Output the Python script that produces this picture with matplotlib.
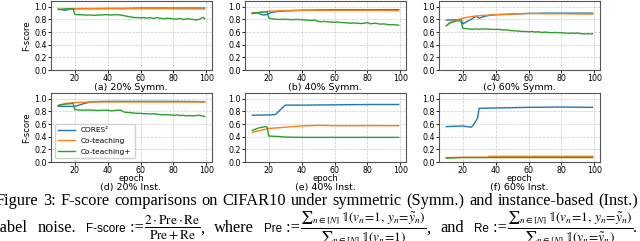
import matplotlib
matplotlib.use('Agg')
import matplotlib.pyplot as plt

# epochs used for the noisy Co-teaching+ curves (a-d)
green_ep = [10, 12, 14, 16, 18, 19] + list(range(20, 99, 2)) + [99]

# (a) 20% Symm.
a_cores_ep = [10, 12, 14, 16, 18, 20, 25, 30, 40, 50, 60, 70, 80, 90, 99]
a_cores = [0.96, 0.955, 0.945, 0.955, 0.965, 0.97, 0.972, 0.972, 0.975, 0.975, 0.98, 0.98, 0.98, 0.98, 0.98]
a_cot_ep = [10, 15, 20, 30, 50, 70, 99]
a_cot = [0.96, 0.965, 0.97, 0.97, 0.97, 0.97, 0.965]
a_cotp = [0.96, 0.96, 0.965, 0.97, 0.97, 0.975,
          0.88, 0.875, 0.875, 0.87, 0.87, 0.87, 0.865, 0.87, 0.87, 0.875,
          0.875, 0.87, 0.875, 0.875, 0.87, 0.86, 0.85, 0.84, 0.83, 0.83,
          0.825, 0.83, 0.82, 0.83, 0.815, 0.83, 0.82, 0.81, 0.82, 0.815,
          0.81, 0.805, 0.815, 0.80, 0.81, 0.805, 0.80, 0.79, 0.805, 0.835, 0.81]

# (b) 40% Symm.
b_cores_ep = [10, 12, 14, 16, 17, 19, 20, 22, 25, 30, 40, 50, 60, 70, 80, 99]
b_cores = [0.90, 0.91, 0.895, 0.875, 0.87, 0.88, 0.895, 0.91, 0.925, 0.935, 0.945, 0.95, 0.955, 0.955, 0.955, 0.955]
b_cot_ep = [10, 13, 16, 20, 25, 30, 40, 60, 80, 99]
b_cot = [0.89, 0.905, 0.915, 0.93, 0.935, 0.94, 0.945, 0.945, 0.945, 0.94]
b_cotp = [0.90, 0.905, 0.91, 0.915, 0.92, 0.925,
          0.82, 0.81, 0.805, 0.80, 0.80, 0.805, 0.80, 0.795, 0.80, 0.80,
          0.795, 0.79, 0.79, 0.785, 0.79, 0.77, 0.765, 0.77, 0.76, 0.76,
          0.755, 0.76, 0.75, 0.75, 0.745, 0.74, 0.745, 0.74, 0.735, 0.74,
          0.75, 0.73, 0.74, 0.735, 0.725, 0.73, 0.72, 0.715, 0.72, 0.71, 0.71]

# (c) 60% Symm.
c_cores_ep = [10, 15, 19, 20, 22, 25, 28, 29, 30, 32, 35, 40, 50, 60, 70, 80, 99]
c_cores = [0.79, 0.795, 0.80, 0.73, 0.76, 0.80, 0.85, 0.84, 0.82, 0.84, 0.86, 0.875, 0.885, 0.895, 0.90, 0.90, 0.90]
c_cot_ep = [10, 12, 15, 20, 25, 30, 40, 50, 60, 70, 80, 99]
c_cot = [0.70, 0.75, 0.78, 0.82, 0.845, 0.86, 0.875, 0.885, 0.895, 0.89, 0.89, 0.885]
c_cotp = [0.70, 0.74, 0.76, 0.775, 0.78, 0.77,
          0.66, 0.655, 0.65, 0.645, 0.65, 0.645, 0.65, 0.65, 0.645, 0.645,
          0.64, 0.645, 0.635, 0.635, 0.63, 0.62, 0.62, 0.615, 0.61, 0.61,
          0.605, 0.61, 0.60, 0.605, 0.595, 0.60, 0.595, 0.59, 0.595, 0.59,
          0.59, 0.585, 0.58, 0.585, 0.58, 0.585, 0.575, 0.57, 0.575, 0.57, 0.575]

# (d) 20% Inst.
d_cores_ep = [10, 14, 20, 25, 30, 40, 60, 80, 99]
d_cores = [0.88, 0.88, 0.88, 0.92, 0.955, 0.96, 0.96, 0.96, 0.955]
d_cot_ep = [10, 15, 20, 25, 30, 50, 80, 99]
d_cot = [0.90, 0.93, 0.94, 0.945, 0.95, 0.95, 0.95, 0.95]
d_cotp = [0.89, 0.905, 0.915, 0.92, 0.925, 0.93,
          0.83, 0.825, 0.82, 0.82, 0.825, 0.82, 0.82, 0.815, 0.82, 0.82,
          0.82, 0.81, 0.815, 0.82, 0.82, 0.79, 0.785, 0.78, 0.775, 0.77,
          0.77, 0.765, 0.765, 0.76, 0.765, 0.755, 0.75, 0.745, 0.75, 0.745,
          0.74, 0.745, 0.735, 0.74, 0.73, 0.735, 0.73, 0.735, 0.74, 0.725, 0.72]

# (e) 40% Inst.
e_cores_ep = [10, 20, 24, 30, 40, 60, 80, 99]
e_cores = [0.74, 0.745, 0.75, 0.90, 0.90, 0.905, 0.91, 0.91]
e_cot_ep = [10, 15, 20, 30, 40, 50, 60, 80, 99]
e_cot = [0.47, 0.50, 0.53, 0.55, 0.57, 0.58, 0.575, 0.575, 0.575]
e_cotp_ep = [10, 12, 14, 16, 18, 19, 20, 25, 30, 40, 60, 80, 99]
e_cotp = [0.50, 0.52, 0.54, 0.55, 0.56, 0.555, 0.41, 0.405, 0.395, 0.39, 0.39, 0.39, 0.39]

# (f) 60% Inst.
f_cores_ep = [10, 15, 20, 25, 26, 28, 29, 30, 40, 50, 60, 80, 99]
f_cores = [0.56, 0.565, 0.57, 0.55, 0.57, 0.65, 0.70, 0.85, 0.855, 0.86, 0.865, 0.87, 0.865]
f_cot_ep = [10, 20, 35, 36, 60, 99]
f_cot = [0.07, 0.075, 0.075, 0.09, 0.09, 0.09]
f_cotp_ep = [10, 15, 20, 40, 60, 99]
f_cotp = [0.06, 0.065, 0.07, 0.07, 0.07, 0.07]

titles = ['(a) 20% Symm.', '(b) 40% Symm.', '(c) 60% Symm.',
          '(d) 20% Inst.', '(e) 40% Inst.', '(f) 60% Inst.']
labels = ['CORES²', 'Co-teaching', 'Co-teaching+']

panels = [
    (a_cores_ep, a_cores, a_cot_ep, a_cot, green_ep, a_cotp),
    (b_cores_ep, b_cores, b_cot_ep, b_cot, green_ep, b_cotp),
    (c_cores_ep, c_cores, c_cot_ep, c_cot, green_ep, c_cotp),
    (d_cores_ep, d_cores, d_cot_ep, d_cot, green_ep, d_cotp),
    (e_cores_ep, e_cores, e_cot_ep, e_cot, e_cotp_ep, e_cotp),
    (f_cores_ep, f_cores, f_cot_ep, f_cot, f_cotp_ep, f_cotp),
]

W, H = 640, 241
plt.rcParams['mathtext.fontset'] = 'stix'
fig = plt.figure(figsize=(6.4, 2.41), dpi=100)

lefts = [51, 245, 439]
bottoms = [70, 162]   # pixel y of the axes bottom, from the top
ax_w, ax_h = 161, 69.5

for i, (ce, cy, oe, oy, ge, gy) in enumerate(panels):
    row, col = divmod(i, 3)
    ax = fig.add_axes([lefts[col] / W, (H - bottoms[row]) / H, ax_w / W, ax_h / H])
    ax.plot(ce, cy, color='tab:blue', lw=1.0, label=labels[0])
    ax.plot(oe, oy, color='tab:orange', lw=1.0, label=labels[1])
    ax.plot(ge, gy, color='tab:green', lw=1.0, label=labels[2])
    ax.set_ylim(0, 1.1)
    ax.set_yticks([0.0, 0.2, 0.4, 0.6, 0.8, 1.0])
    ax.set_xticks([20, 40, 60, 80, 100])
    ax.tick_params(labelsize=5.7, length=2, pad=1.0, width=0.6)
    ax.grid(True, linestyle='--', color='#cccccc', lw=0.5)
    for sp in ax.spines.values():
        sp.set_linewidth(0.8)
        sp.set_color('#555555')
    if col == 0:
        ax.set_ylabel('F-score', fontsize=6, labelpad=2)
    if row == 1:
        ax.set_xlabel('epoch', fontsize=6, labelpad=-0.5)
    if i == 3:
        ax.legend(loc='lower left', fontsize=5.3, handlelength=2.2, borderpad=0.5,
                  labelspacing=0.6, framealpha=0.9, edgecolor='#cccccc')
    ty = 82.5 if row == 0 else 183
    fig.text((lefts[col] + 80) / W, (H - ty) / H, titles[i], fontsize=6.8,
             ha='center', va='top')

# caption, justified between the picture edges (it is cropped in the reference)
renderer = fig.canvas.get_renderer()
serif = dict(family='Liberation Serif', fontsize=11.8)
sans = dict(family='Liberation Sans', fontsize=8.4)
math = dict(family='Liberation Serif', fontsize=13.8)


def justify(groups, x0, x1, base):
    placed = []
    total = 0
    for g in groups:
        items = []
        for s, kw in g:
            t = fig.text(0, (H - base) / H, s, va='baseline', ha='left', **kw)
            w = t.get_window_extent(renderer).width
            items.append((t, w))
            total += w
        placed.append(items)
    gap = (x1 - x0 - total) / (len(groups) - 1)
    x = x0
    for items in placed:
        for t, w in items:
            t.set_x(x / W)
            x += w
        x += gap


line1 = 'Figure 3: F-score comparisons on CIFAR10 under symmetric (Symm.) and instance-based (Inst.)'
justify([[(w, serif)] for w in line1.split(' ')], -4, 638, 205)

frac_f = r'$\frac{2\cdot\mathrm{Pre}\cdot\mathrm{Re}}{\mathrm{Pre}+\mathrm{Re}}$'
frac_pre = (r'$\frac{{\sum}_{n\in[N]}\,\mathbb{1}(v_n\!=\!1,\,y_n\!=\!\tilde{y}_n)}'
            r'{{\sum}_{n\in[N]}\,\mathbb{1}(v_n\!=\!1)}$')
frac_re = (r'$\frac{{\sum}_{n\in[N]}\,\mathbb{1}(v_n\!=\!1,\,y_n\!=\!\tilde{y}_n)}'
           r'{{\sum}_{n\in[N]}\,\mathbb{1}(y_n\!=\!\tilde{y}_n)}$')
line2 = [
    [('label', serif)],
    [('noise.', serif)],
    [('F-score', sans), (' :=', serif), (frac_f, math), (',', serif)],
    [('where', serif)],
    [('Pre', sans), (' :=', serif), (frac_pre, math), (',', serif)],
    [('and', serif)],
    [('Re', sans), (' :=', serif), (frac_re, math), ('.', serif)],
]
justify(line2, -4, 637, 232.5)

fig.savefig('out.png', dpi=100)
